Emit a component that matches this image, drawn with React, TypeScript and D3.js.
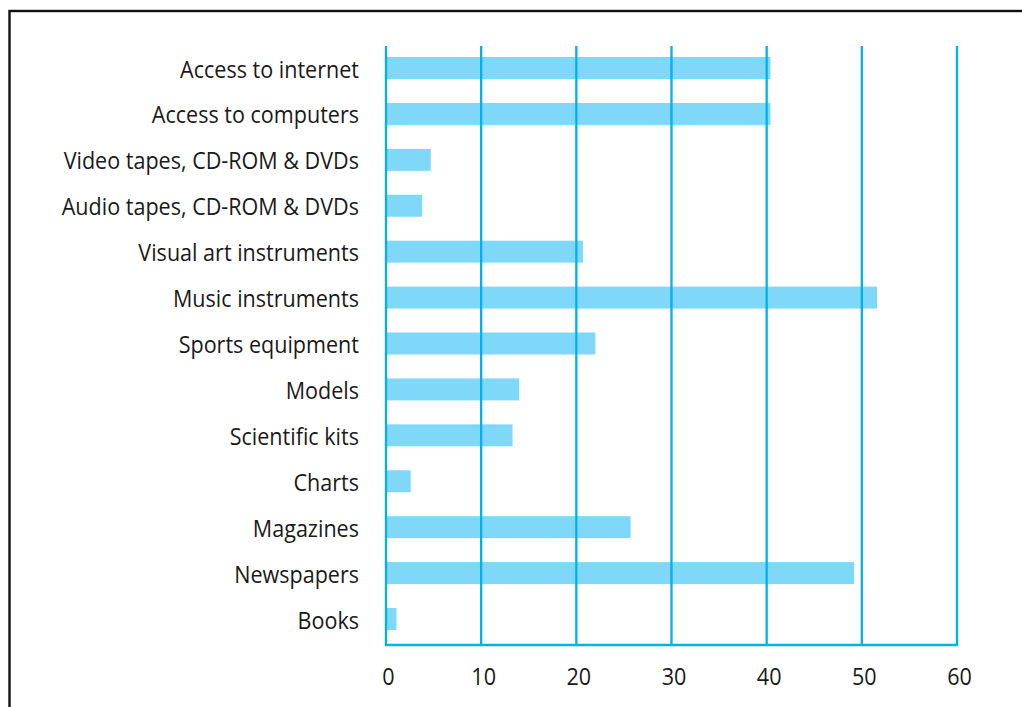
import React from "react";
import * as d3 from "d3";

const categories = [
  "Access to internet",
  "Access to computers",
  "Video tapes, CD-ROM & DVDs",
  "Audio tapes, CD-ROM & DVDs",
  "Visual art instruments",
  "Music instruments",
  "Sports equipment",
  "Models",
  "Scientific kits",
  "Charts",
  "Magazines",
  "Newspapers",
  "Books",
];
const values = [40.4, 40.4, 4.7, 3.8, 20.7, 51.6, 22.0, 14.0, 13.3, 2.6, 25.7, 49.2, 1.1];
const ticks = [0, 10, 20, 30, 40, 50, 60];

const W = 1022;
const H = 707;
const FONT = "'Open Sans', 'Noto Sans', sans-serif";
const FS = 24.5;
const SX = 0.88;

export default function App() {
  const x = d3.scaleLinear().domain([0, 60]).range([386, 957]);
  const y = d3.scalePoint<string>().domain(categories).range([68, 619]);
  const gridTop = 46;
  const gridBottom = 645;
  const barH = 22;
  const gridColor = "#00b0f0";
  const barColor = "#80d8f8";

  return (
    <svg
      width={W}
      height={H}
      style={{ position: "absolute", left: 0, top: 0, background: "#fff" }}
    >
      <rect x={9.5} y={11} width={1100} height={900} fill="none" stroke="#111" strokeWidth={2.4} />
      {categories.map((c, i) => {
        const cy = y(c) as number;
        return (
          <rect
            key={c}
            x={x(0)}
            y={cy - barH / 2}
            width={x(values[i]) - x(0)}
            height={barH}
            fill={barColor}
          />
        );
      })}
      {ticks.map((t) => (
        <line
          key={t}
          x1={x(t)}
          x2={x(t)}
          y1={gridTop}
          y2={gridBottom}
          stroke={gridColor}
          strokeWidth={2.3}
        />
      ))}
      <line x1={x(0) - 1.1} x2={x(60) + 1.1} y1={gridBottom} y2={gridBottom} stroke={gridColor} strokeWidth={2.6} />
      {categories.map((c) => {
        const cy = y(c) as number;
        return (
          <text
            key={c}
            transform={`translate(359,${cy + 9.5}) scale(${SX},1)`}
            textAnchor="end"
            fontFamily={FONT}
            fontSize={FS}
            fill="#1a1a1a"
          >
            {c}
          </text>
        );
      })}
      {ticks.map((t) => (
        <text
          key={t}
          transform={`translate(${x(t) + 2.5},685) scale(${SX},1)`}
          textAnchor="middle"
          fontFamily={FONT}
          fontSize={FS}
          fill="#1a1a1a"
        >
          {t}
        </text>
      ))}
    </svg>
  );
}
